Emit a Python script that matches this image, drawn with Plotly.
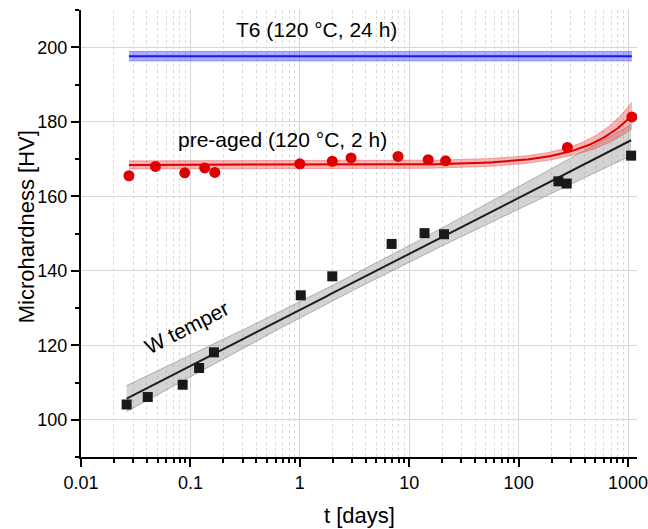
import numpy as np
import plotly.graph_objects as go

# ---- data ----
w_t = [0.0261, 0.0407, 0.0849, 0.120, 0.164, 1.02, 1.98, 6.9, 13.8, 20.8, 231, 275, 1067]
w_hv = [104.1, 106.1, 109.4, 113.9, 118.1, 133.4, 138.5, 147.2, 150.1, 149.8, 164.0, 163.4, 170.9]

pa_t = [0.0274, 0.0479, 0.0887, 0.135, 0.167, 1.0, 1.98, 2.94, 7.9, 14.9, 21.5, 279, 1084]
pa_hv = [165.5, 168.0, 166.3, 167.6, 166.4, 168.7, 169.4, 170.3, 170.7, 169.8, 169.5, 173.1, 181.3]

t6_hv = 197.6          # T6 level
t6_ci = 1.3            # T6 band half-width
t6_span = [0.0274, 1084]

x_tickvals = [0.01, 0.1, 1, 10, 100, 1000]
x_ticktext = ["0.01", "0.1", "1", "10", "100", "1000"]
T_CRIT = 2.201         # 95 %, 11 degrees of freedom


def ols_band(xd, yd, xs):
    xd = np.asarray(xd, float); yd = np.asarray(yd, float)
    n = len(xd)
    b, a = np.polyfit(xd, yd, 1)
    res = yd - (a + b * xd)
    s = np.sqrt(np.sum(res ** 2) / (n - 2))
    xm = xd.mean(); sxx = np.sum((xd - xm) ** 2)
    yh = a + b * xs
    ci = T_CRIT * s * np.sqrt(1.0 / n + (xs - xm) ** 2 / sxx)
    return yh, ci


# W temper: linear in log10(t)
tw = np.logspace(np.log10(min(w_t)), np.log10(max(w_t)), 200)
w_fit, w_ci = ols_band(np.log10(w_t), w_hv, np.log10(tw))
# pre-aged: linear in t
tp = np.logspace(np.log10(min(pa_t)), np.log10(max(pa_t)), 300)
p_fit, p_ci = ols_band(pa_t, pa_hv, tp)
# T6
tt = np.array(t6_span, float)
t6_line = np.full(2, t6_hv)

fig = go.Figure()


def band(x, lo, hi, fill, edge):
    fig.add_trace(go.Scatter(x=x, y=hi, mode="lines", line=dict(color=edge, width=0.8),
                             hoverinfo="skip", showlegend=False))
    fig.add_trace(go.Scatter(x=x, y=lo, mode="lines", line=dict(color=edge, width=0.8),
                             fill="tonexty", fillcolor=fill, hoverinfo="skip", showlegend=False))


band(tt, t6_line - t6_ci, t6_line + t6_ci, "rgba(70,70,255,0.45)", "rgba(70,70,255,0.5)")
fig.add_trace(go.Scatter(x=tt, y=t6_line, mode="lines", line=dict(color="rgb(25,25,230)", width=2),
                         showlegend=False))

band(tw, w_fit - w_ci, w_fit + w_ci, "rgba(150,150,150,0.42)", "rgba(110,110,110,0.6)")
fig.add_trace(go.Scatter(x=tw, y=w_fit, mode="lines", line=dict(color="rgb(30,30,30)", width=2),
                         showlegend=False))

band(tp, p_fit - p_ci, p_fit + p_ci, "rgba(235,70,70,0.4)", "rgba(235,70,70,0.5)")
fig.add_trace(go.Scatter(x=tp, y=p_fit, mode="lines", line=dict(color="rgb(220,0,0)", width=2),
                         showlegend=False))

fig.add_trace(go.Scatter(x=w_t, y=w_hv, mode="markers",
                         marker=dict(symbol="square", size=10, color="rgb(25,25,25)"),
                         showlegend=False))
fig.add_trace(go.Scatter(x=pa_t, y=pa_hv, mode="markers",
                         marker=dict(symbol="circle", size=11, color="rgb(225,0,0)"),
                         showlegend=False))

minor_x = [m * 10.0 ** e for e in range(-2, 4) for m in range(2, 10)]

FONT = "Liberation Sans, Arial, sans-serif"
fig.update_layout(
    width=648, height=529,
    margin=dict(l=81, r=11, t=10, b=72, pad=0, autoexpand=False),
    paper_bgcolor="white", plot_bgcolor="white",
    font=dict(family=FONT, size=18, color="black"),
    showlegend=False,
    xaxis=dict(type="log", range=[-2.0005, 3.082], automargin=False,
               tickmode="array", tickvals=x_tickvals, ticktext=x_ticktext,
               ticks="outside", ticklen=8, tickwidth=1.5, tickcolor="black",
               showline=True, linewidth=2, linecolor="black", zeroline=False,
               showgrid=True, gridcolor="rgb(215,215,215)", gridwidth=1,
               tickfont=dict(size=18), ticklabeloverflow="allow",
               minor=dict(tickmode="array", tickvals=minor_x, ticks="outside", ticklen=4,
                          tickwidth=1.5, tickcolor="black", showgrid=True, griddash="3px,3px",
                          gridcolor="rgb(218,218,218)", gridwidth=1)),
    yaxis=dict(range=[90, 210], tick0=0, dtick=20, automargin=False,
               ticks="outside", ticklen=8, tickwidth=1.5, tickcolor="black",
               showline=True, linewidth=2, linecolor="black", zeroline=False,
               showgrid=True, gridcolor="rgb(215,215,215)", gridwidth=1,
               tickfont=dict(size=18), ticklabeloverflow="allow",
               minor=dict(tick0=0, dtick=10, ticks="outside", ticklen=4, tickwidth=1.5,
                          tickcolor="black", showgrid=False)),
)

ann = dict(showarrow=False, font=dict(family=FONT, size=21, color="black"),
           xanchor="center", yanchor="middle")
fig.add_annotation(x=np.log10(1.43), y=204.8, text="T6 (120 °C, 24 h)", **ann)
fig.add_annotation(x=np.log10(0.699), y=175.3, text="pre-aged (120 °C, 2 h)", **ann)
fig.add_annotation(x=np.log10(0.0919), y=124.9, text="W temper", textangle=-27, **ann)

fig.add_annotation(xref="paper", yref="paper", x=0.5, y=-0.13, text="t [days]",
                   showarrow=False, font=dict(family=FONT, size=22, color="black"),
                   xanchor="center", yanchor="middle")
fig.add_annotation(xref="paper", yref="paper", x=-0.098, y=0.515, text="Microhardness [HV]",
                   textangle=-90, showarrow=False,
                   font=dict(family=FONT, size=22, color="black"),
                   xanchor="center", yanchor="middle")

fig.write_html("out.html")
